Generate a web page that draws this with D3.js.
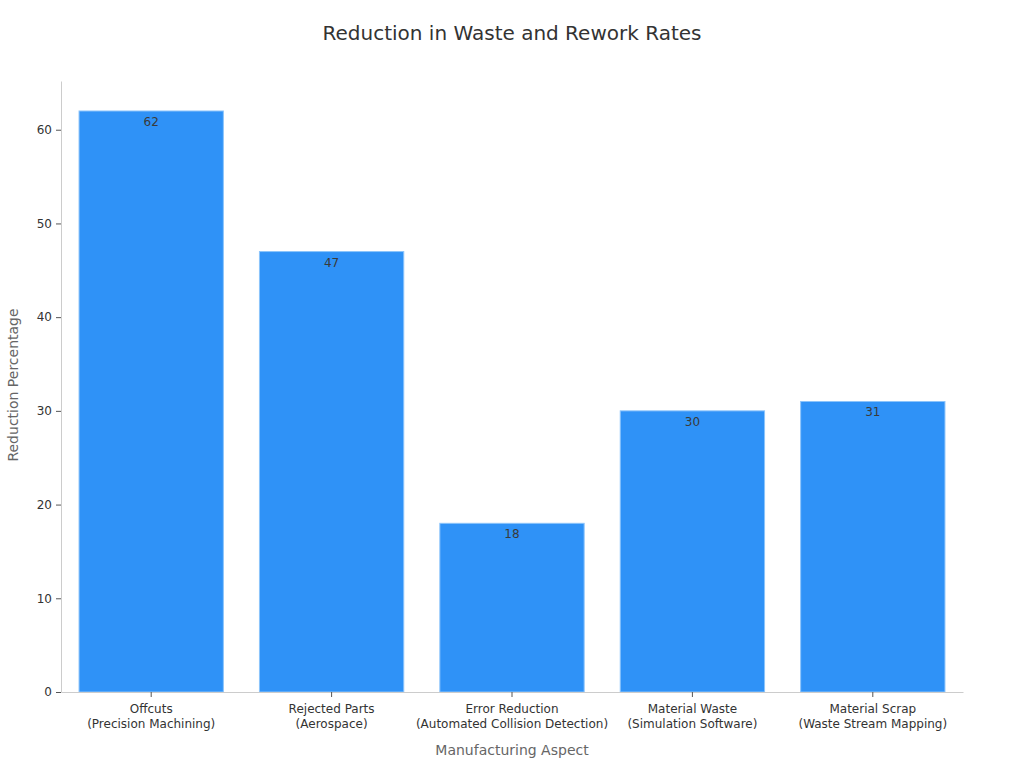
<!DOCTYPE html>
<html><head><meta charset="utf-8">
<script src="https://cdn.jsdelivr.net/npm/d3@7"></script>
<style>body{margin:0;background:#fff;font-family:"DejaVu Sans",sans-serif;}</style>
</head><body><svg id="c" width="1024" height="768"></svg>
<script>
const categories = [
  ["Offcuts","(Precision Machining)"],
  ["Rejected Parts","(Aerospace)"],
  ["Error Reduction","(Automated Collision Detection)"],
  ["Material Waste","(Simulation Software)"],
  ["Material Scrap","(Waste Stream Mapping)"]
];
const values = [62, 47, 18, 30, 31];
const yTicks = [0, 10, 20, 30, 40, 50, 60];

const svg = d3.select("#c");
const m = {l:61, r:61, t:81, b:76};
const W = 1024, H = 768;
const x = d3.scaleBand().domain(d3.range(categories.length)).range([m.l, W - m.r]).paddingInner(0.2).paddingOuter(0.1);
const y = d3.scaleLinear().domain([0, 65.2]).range([H - m.b, m.t]);

svg.append("text").attr("x", 512).attr("y", 40).attr("text-anchor","middle")
  .attr("font-size", 20).attr("fill", "#333").text("Reduction in Waste and Rework Rates");

svg.selectAll("rect.bar").data(values).join("rect").attr("class","bar")
  .attr("x", (d,i)=>x(i)).attr("width", x.bandwidth())
  .attr("y", d=>y(d)).attr("height", d=>y(0)-y(d))
  .attr("fill", "#2f92f7").attr("stroke", "#8cc4fb").attr("stroke-width", 1);

svg.selectAll("text.val").data(values).join("text").attr("class","val")
  .attr("x", (d,i)=>x(i)+x.bandwidth()/2).attr("y", d=>y(d)+15)
  .attr("text-anchor","middle").attr("font-size", 12).attr("fill","#3a3a3a").text(d=>d);

// y axis
const ya = svg.append("g").attr("transform", `translate(${m.l},0)`)
  .call(d3.axisLeft(y).tickValues(yTicks).tickSize(5).tickPadding(4).tickSizeOuter(0));
ya.select(".domain").attr("stroke","#ccc");
ya.selectAll(".tick line").attr("stroke","#555");
ya.selectAll(".tick text").attr("font-size",12).attr("fill","#333").attr("font-family","DejaVu Sans");

// x axis
const xa = svg.append("g").attr("transform", `translate(0,${y(0)})`)
  .call(d3.axisBottom(x).tickSize(5).tickSizeOuter(0).tickFormat(""));
xa.select(".domain").attr("stroke","#ccc");
xa.selectAll(".tick line").attr("stroke","#555");
xa.selectAll(".tick").each(function(d){
  const t = d3.select(this).append("text").attr("fill","#333").attr("font-size",12)
    .attr("text-anchor","middle").attr("font-family","DejaVu Sans");
  t.append("tspan").attr("x",0).attr("y",21).text(categories[d][0]);
  t.append("tspan").attr("x",0).attr("y",36).text(categories[d][1]);
});

svg.append("text").attr("x", 512).attr("y", 755).attr("text-anchor","middle")
  .attr("font-size", 14).attr("fill","#666").text("Manufacturing Aspect");
svg.append("text").attr("transform","translate(18,385) rotate(-90)").attr("text-anchor","middle")
  .attr("font-size", 14).attr("fill","#666").text("Reduction Percentage");
</script></body></html>
